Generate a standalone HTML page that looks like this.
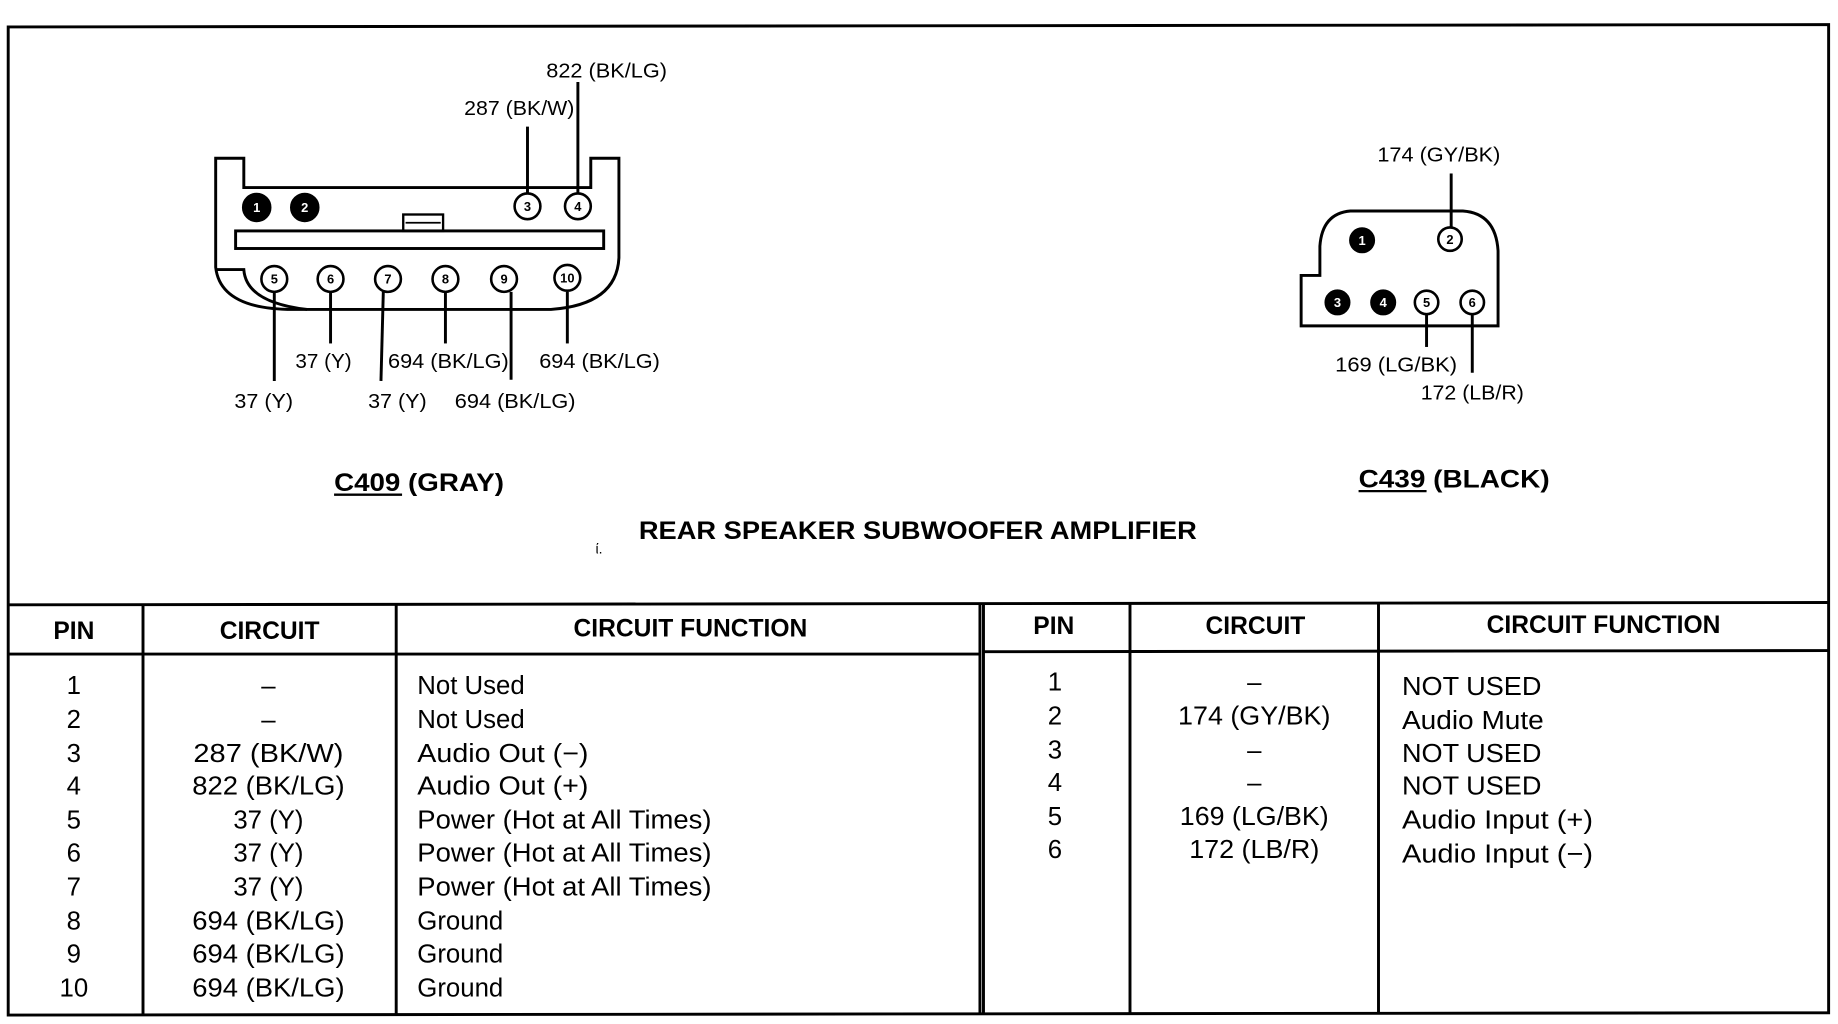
<!DOCTYPE html>
<html><head><meta charset="utf-8"><style>
html,body{margin:0;padding:0;background:#fff;}
svg{display:block;}
text{font-family:"Liberation Sans",Arial,sans-serif;fill:#000;}
.l{font-size:17px;}
.h{font-size:21px;font-weight:bold;}
.r{font-size:22px;}
.pn{font-size:11px;font-weight:bold;}
</style></head><body>
<svg width="1838" height="1024" viewBox="0 0 1568 873.6" preserveAspectRatio="none" xmlns="http://www.w3.org/2000/svg">
<g fill="none" stroke="#000" stroke-width="2.5">
<path d="M7 23 L1560 21 L1560 864 L7 866 Z"/>
<line x1="7" y1="516" x2="1560" y2="514"/>
<line x1="7" y1="558" x2="836" y2="558"/>
<line x1="839" y1="556" x2="1560" y2="555"/>
<line x1="122" y1="516" x2="122" y2="865"/>
<line x1="338" y1="516" x2="338" y2="865"/>
<line x1="836" y1="516" x2="836" y2="865"/>
<line x1="839" y1="516" x2="839" y2="865"/>
<line x1="964" y1="515" x2="964" y2="864"/>
<line x1="1176" y1="515" x2="1176" y2="864"/>
<path d="M208 135 L184 135 L184 228 Q188 264 250 264 L470 264 Q526 260 528 220 L528 135 L504 135 L504 160 L208 160 Z"/>
<path d="M184 230 L208 230 Q210 258 262 264"/>
<rect x="201" y="197" width="314" height="15"/>
<rect x="344" y="183" width="34" height="14" stroke-width="2"/>
<line x1="346" y1="190" x2="376" y2="190" stroke-width="1.5"/>
<line x1="450" y1="108" x2="450" y2="165"/>
<line x1="493" y1="70" x2="493" y2="165"/>
<line x1="234" y1="249" x2="234" y2="325"/>
<line x1="282" y1="249" x2="282" y2="293"/>
<line x1="327" y1="249" x2="325" y2="325"/>
<line x1="380" y1="249" x2="380" y2="293"/>
<line x1="436" y1="249" x2="436" y2="324"/>
<line x1="484" y1="249" x2="484" y2="293"/>
<path d="M1126 235 L1110 235 L1110 278 L1278 278 L1278 214 Q1276 182 1248 180 L1152 180 Q1128 182 1126 210 Z"/>
<line x1="1238" y1="148" x2="1238" y2="195"/>
<line x1="1217" y1="268" x2="1217" y2="296"/>
<line x1="1256" y1="268" x2="1256" y2="318"/>
</g>
<g stroke="#000" stroke-width="2.2">
<circle cx="219" cy="177" r="11.5" fill="#000"/>
<circle cx="260" cy="177" r="11.5" fill="#000"/>
<circle cx="450" cy="176" r="11" fill="#fff"/>
<circle cx="493" cy="176" r="11" fill="#fff"/>
<circle cx="234" cy="238" r="11" fill="#fff"/>
<circle cx="282" cy="238" r="11" fill="#fff"/>
<circle cx="331" cy="238" r="11" fill="#fff"/>
<circle cx="380" cy="238" r="11" fill="#fff"/>
<circle cx="430" cy="238" r="11" fill="#fff"/>
<circle cx="484" cy="237" r="11" fill="#fff"/>
<circle cx="1162" cy="205" r="10" fill="#000"/>
<circle cx="1237" cy="204" r="10" fill="#fff"/>
<circle cx="1141" cy="258" r="10" fill="#000"/>
<circle cx="1180" cy="258" r="10" fill="#000"/>
<circle cx="1217" cy="258" r="10" fill="#fff"/>
<circle cx="1256" cy="258" r="10" fill="#fff"/>
</g>
<g class="pn" text-anchor="middle">
<text x="219" y="181" style="fill:#fff">1</text><text x="260" y="181" style="fill:#fff">2</text>
<text x="450" y="180">3</text><text x="493" y="180">4</text>
<text x="234" y="242">5</text><text x="282" y="242">6</text><text x="331" y="242">7</text>
<text x="380" y="242">8</text><text x="430" y="242">9</text><text x="484" y="241">10</text>
<text x="1162" y="209" style="fill:#fff">1</text><text x="1237" y="208">2</text>
<text x="1141" y="262" style="fill:#fff">3</text><text x="1180" y="262" style="fill:#fff">4</text>
<text x="1217" y="262">5</text><text x="1256" y="262">6</text>
</g>
<g class="l">
<text x="466" y="66" textLength="103" lengthAdjust="spacingAndGlyphs">822 (BK/LG)</text>
<text x="396" y="98" textLength="94" lengthAdjust="spacingAndGlyphs">287 (BK/W)</text>
<text x="252" y="314" textLength="48" lengthAdjust="spacingAndGlyphs">37 (Y)</text>
<text x="331" y="314" textLength="103" lengthAdjust="spacingAndGlyphs">694 (BK/LG)</text>
<text x="460" y="314" textLength="103" lengthAdjust="spacingAndGlyphs">694 (BK/LG)</text>
<text x="200" y="348" textLength="50" lengthAdjust="spacingAndGlyphs">37 (Y)</text>
<text x="314" y="348" textLength="50" lengthAdjust="spacingAndGlyphs">37 (Y)</text>
<text x="388" y="348" textLength="103" lengthAdjust="spacingAndGlyphs">694 (BK/LG)</text>
<text x="1175" y="138" textLength="105" lengthAdjust="spacingAndGlyphs">174 (GY/BK)</text>
<text x="1139" y="317" textLength="104" lengthAdjust="spacingAndGlyphs">169 (LG/BK)</text>
<text x="1212" y="341" textLength="88" lengthAdjust="spacingAndGlyphs">172 (LB/R)</text>
</g>
<text class="h" x="285" y="419" textLength="145" lengthAdjust="spacingAndGlyphs">C409 (GRAY)</text>
<line x1="285" y1="422" x2="343" y2="422" stroke="#000" stroke-width="2"/>
<text class="h" x="1159" y="416" textLength="163" lengthAdjust="spacingAndGlyphs">C439 (BLACK)</text>
<line x1="1159" y1="419" x2="1217" y2="419" stroke="#000" stroke-width="2"/>
<text class="h" x="545" y="460" textLength="476" lengthAdjust="spacingAndGlyphs">REAR SPEAKER SUBWOOFER AMPLIFIER</text>
<text x="508" y="472" style="font-size:12px">ί.</text>
<g class="h" text-anchor="middle">
<text x="63" y="545">PIN</text><text x="230" y="545">CIRCUIT</text><text x="589" y="543">CIRCUIT FUNCTION</text>
<text x="899" y="541">PIN</text><text x="1071" y="541">CIRCUIT</text><text x="1368" y="540">CIRCUIT FUNCTION</text>
</g>
<g class="r" text-anchor="middle">
<text x="63" y="592">1</text><text x="63" y="621">2</text><text x="63" y="650">3</text><text x="63" y="678">4</text><text x="63" y="707">5</text>
<text x="63" y="735">6</text><text x="63" y="764">7</text><text x="63" y="793">8</text><text x="63" y="821">9</text><text x="63" y="850">10</text>
<text x="229" y="592">–</text><text x="229" y="621">–</text>
<text x="229" y="650" textLength="128" lengthAdjust="spacingAndGlyphs">287 (BK/W)</text>
<text x="229" y="678" textLength="130" lengthAdjust="spacingAndGlyphs">822 (BK/LG)</text>
<text x="229" y="707">37 (Y)</text><text x="229" y="735">37 (Y)</text><text x="229" y="764">37 (Y)</text>
<text x="229" y="793" textLength="130" lengthAdjust="spacingAndGlyphs">694 (BK/LG)</text>
<text x="229" y="821" textLength="130" lengthAdjust="spacingAndGlyphs">694 (BK/LG)</text>
<text x="229" y="850" textLength="130" lengthAdjust="spacingAndGlyphs">694 (BK/LG)</text>
<text x="900" y="589">1</text><text x="900" y="618">2</text><text x="900" y="647">3</text><text x="900" y="675">4</text><text x="900" y="704">5</text><text x="900" y="732">6</text>
<text x="1070" y="589">–</text>
<text x="1070" y="618" textLength="130" lengthAdjust="spacingAndGlyphs">174 (GY/BK)</text>
<text x="1070" y="647">–</text><text x="1070" y="675">–</text>
<text x="1070" y="704" textLength="127" lengthAdjust="spacingAndGlyphs">169 (LG/BK)</text>
<text x="1070" y="732" textLength="111" lengthAdjust="spacingAndGlyphs">172 (LB/R)</text>
</g>
<g class="r">
<text x="356" y="592">Not Used</text><text x="356" y="621">Not Used</text>
<text x="356" y="650" textLength="146" lengthAdjust="spacingAndGlyphs">Audio Out (−)</text>
<text x="356" y="678" textLength="146" lengthAdjust="spacingAndGlyphs">Audio Out (+)</text>
<text x="356" y="707" textLength="251" lengthAdjust="spacingAndGlyphs">Power (Hot at All Times)</text>
<text x="356" y="735" textLength="251" lengthAdjust="spacingAndGlyphs">Power (Hot at All Times)</text>
<text x="356" y="764" textLength="251" lengthAdjust="spacingAndGlyphs">Power (Hot at All Times)</text>
<text x="356" y="793">Ground</text><text x="356" y="821">Ground</text><text x="356" y="850">Ground</text>
<text x="1196" y="593" textLength="119" lengthAdjust="spacingAndGlyphs">NOT USED</text>
<text x="1196" y="622" textLength="121" lengthAdjust="spacingAndGlyphs">Audio Mute</text>
<text x="1196" y="650" textLength="119" lengthAdjust="spacingAndGlyphs">NOT USED</text>
<text x="1196" y="678" textLength="119" lengthAdjust="spacingAndGlyphs">NOT USED</text>
<text x="1196" y="707" textLength="163" lengthAdjust="spacingAndGlyphs">Audio Input (+)</text>
<text x="1196" y="736" textLength="163" lengthAdjust="spacingAndGlyphs">Audio Input (−)</text>
</g>
</svg>
</body></html>
